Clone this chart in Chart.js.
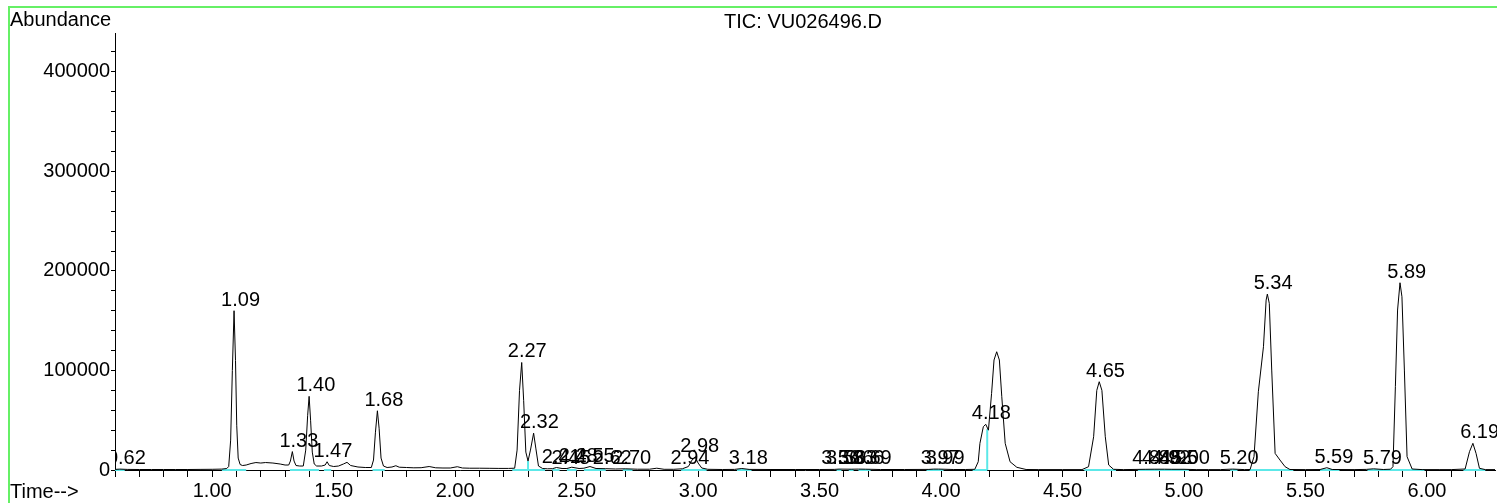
<!DOCTYPE html>
<html>
<head>
<meta charset="utf-8">
<script src="https://cdn.jsdelivr.net/npm/chart.js@4.4.1/dist/chart.umd.min.js"></script>
<style>
  html, body { margin: 0; padding: 0; background: #ffffff; overflow: hidden; }
  canvas { display: block; }
</style>
</head>
<body>
<canvas id="c" width="1497" height="503"></canvas>
<script>
// ---------- DATA ----------
const chartTitle = "TIC: VU026496.D";
const yAxisTitle = "Abundance";
const xAxisTitle = "Time-->";

// retention time (min)
const times = [
  0.60, 0.62, 0.65, 0.70, 0.75, 0.80, 0.85, 0.90, 0.95, 1.00, 1.04,
  1.060, 1.068, 1.076, 1.083, 1.090, 1.096, 1.101, 1.107, 1.115, 1.125,
  1.14, 1.16, 1.18, 1.20, 1.22, 1.25, 1.28, 1.30,
  1.315, 1.322, 1.330, 1.337, 1.345, 1.36, 1.375,
  1.385, 1.393, 1.399, 1.405, 1.412, 1.42, 1.43, 1.45,
  1.465, 1.473, 1.482, 1.50, 1.52, 1.54, 1.555, 1.57, 1.60, 1.63,
  1.655, 1.664, 1.672, 1.680, 1.687, 1.695, 1.705, 1.72, 1.74, 1.756, 1.77,
  1.80, 1.83, 1.86, 1.893, 1.92, 1.95, 1.98, 2.009, 2.03, 2.06, 2.10, 2.14, 2.18, 2.22,
  2.245, 2.255, 2.265, 2.274, 2.282, 2.291, 2.300, 2.310, 2.323, 2.332, 2.343,
  2.36, 2.38, 2.40, 2.417, 2.44, 2.46, 2.48, 2.51, 2.53, 2.555, 2.58, 2.62, 2.66,
  2.70, 2.75, 2.80, 2.83, 2.86, 2.90, 2.935, 2.96, 2.975, 2.988, 3.00, 3.015, 3.04,
  3.10, 3.15, 3.18, 3.21, 3.30, 3.40, 3.50, 3.56, 3.58, 3.63, 3.66, 3.69, 3.75,
  3.85, 3.95, 3.97, 3.99, 4.05, 4.10,
  4.139, 4.153, 4.160, 4.174, 4.184, 4.195, 4.208, 4.218, 4.229, 4.240, 4.250,
  4.264, 4.284, 4.312, 4.35, 4.40, 4.50, 4.58,
  4.607, 4.628, 4.641, 4.651, 4.662, 4.676, 4.690, 4.710,
  4.75, 4.84, 4.88, 4.92, 4.95, 5.00, 5.05, 5.10, 5.15, 5.20, 5.25,
  5.272, 5.288, 5.306, 5.327, 5.338, 5.343, 5.351, 5.361, 5.375, 5.395, 5.416, 5.436,
  5.50, 5.56, 5.588, 5.61, 5.70, 5.75, 5.78, 5.82, 5.85,
  5.860, 5.870, 5.879, 5.889, 5.897, 5.907, 5.918, 5.939,
  5.98, 6.05, 6.10, 6.157, 6.175, 6.189, 6.202, 6.216, 6.24, 6.28
];

// total ion current abundance
const abundance = [
  600, 900, 600, 500, 500, 500, 500, 500, 600, 700, 900,
  1500, 3500, 30000, 100000, 160000, 110000, 45000, 12000, 5500, 4500,
  5000, 6500, 7500, 7000, 7500, 7000, 6000, 5000,
  5000, 9000, 18500, 9000, 4500, 4000, 4000,
  20000, 55000, 74000, 50000, 18000, 6000, 4000, 4000,
  5000, 8300, 4500, 3500, 4000, 6000, 7700, 4500, 3000, 2500,
  2500, 10000, 38000, 59500, 42000, 12000, 4000, 2500, 3000, 4300, 2800,
  2500, 2200, 2300, 3500, 2200, 2000, 2000, 3300, 2000, 1800, 1800, 1700, 1600, 1600,
  1800, 20000, 80000, 108000, 70000, 18000, 9000, 20000, 37000, 22000, 4000,
  1500, 1200, 1300, 2500, 1500, 1500, 2800, 1500, 1800, 3500, 1500, 1300, 1000,
  1200, 800, 800, 1800, 700, 700, 1200, 3500, 10000, 13000, 7000, 2000, 700,
  500, 600, 1500, 600, 500, 500, 500, 600, 900, 800, 900, 800, 500,
  500, 600, 900, 900, 500, 500,
  700, 8300, 26800, 43500, 45900, 40000, 77000, 110500, 118800, 110500, 73600,
  26800, 8300, 2700, 500, 400, 400, 400,
  3300, 33400, 80000, 88700, 80000, 33400, 5000, 700,
  400, 700, 800, 800, 700, 700, 400, 400, 400, 900, 400,
  500, 13400, 78600, 123800, 170700, 176700, 167400, 100400, 16700, 10000, 3300, 500,
  400, 500, 2300, 500, 400, 600, 1200, 500, 800,
  3300, 83700, 160700, 188100, 174000, 100400, 13400, 1000,
  400, 400, 400, 1000, 18400, 26800, 16700, 1700, 400, 400
];

// peak annotations
const peakLabels = [
  "0.62", "1.09", "1.33", "1.40", "1.47", "1.68", "2.27", "2.32",
  "2.41", "2.45", "2.48", "2.55", "2.62", "2.70", "2.94", "2.98", "3.18",
  "3.56", "3.58", "3.63", "3.66", "3.69", "3.97", "3.99", "4.18", "4.65",
  "4.84", "4.88", "4.92", "4.95", "5.00", "5.20", "5.34", "5.59", "5.79", "5.89", "6.19"
];
const peakTimes = [
  0.62, 1.09, 1.33, 1.40, 1.47, 1.68, 2.27, 2.32,
  2.41, 2.45, 2.48, 2.55, 2.62, 2.70, 2.94, 2.98, 3.18,
  3.56, 3.58, 3.63, 3.66, 3.69, 3.97, 3.99, 4.18, 4.65,
  4.84, 4.88, 4.92, 4.95, 5.00, 5.20, 5.34, 5.59, 5.79, 5.89, 6.19
];
const peakHeights = [
  900, 160000, 18500, 74000, 8300, 59500, 108000, 37000,
  2500, 1500, 2800, 3500, 1300, 1200, 1200, 13000, 1500,
  1000, 1000, 1000, 1000, 1000, 900, 900, 45900, 88700,
  800, 800, 800, 800, 800, 900, 176700, 2300, 1200, 188100, 26800
];

// integration baselines (cyan)
const intStart = [0.60, 1.04, 1.32, 1.46, 1.66, 2.235, 2.305, 2.40, 2.46, 2.53, 2.69, 2.93, 3.16, 3.57, 3.62, 3.66, 3.94, 4.13, 4.59, 4.81, 5.19, 5.27, 5.56, 5.755, 6.15];
const intEnd   = [0.64, 1.14, 1.44, 1.49, 1.71, 2.305, 2.37, 2.43, 2.50, 2.62, 2.73, 3.035, 3.22, 3.59, 3.64, 3.71, 4.01, 4.19, 4.72, 5.02, 5.22, 5.45, 5.64, 5.99, 6.24];
const splitTimes   = [2.30, 4.19];
const splitHeights = [9000, 41000];

// axes
const xMin = 0.6, xMax = 6.28, xStep = 0.1, xLabelEvery = 0.5;
const yMin = 0, yMax = 439000, yLabelEvery = 100000;
const yTickValues = [0, 20000, 40000, 60000, 80000, 100000, 120000, 140000, 160000, 180000,
  200000, 220000, 240000, 260000, 280000, 300000, 320000, 340000, 360000, 380000, 400000, 420000];

// ---------- BUILD ----------
const FONT = "'Liberation Sans', Arial, sans-serif";
const tic = times.map((t, i) => ({ x: t, y: abundance[i] }));
const cyan = [];
intStart.forEach((s, i) => {
  cyan.push({ x: s, y: 0 }, { x: intEnd[i], y: 0 }, { x: intEnd[i], y: null });
});
splitTimes.forEach((t, i) => {
  cyan.push({ x: t, y: 0 }, { x: t, y: splitHeights[i] }, { x: t, y: null });
});

const decor = {
  id: 'decor',
  afterDatasetsDraw(chart) {
    const { ctx, chartArea, scales } = chart;
    const xs = scales.x, ys = scales.y;
    ctx.save();
    ctx.beginPath();
    ctx.rect(chartArea.left, 0, chart.width - chartArea.left, chart.height);
    ctx.clip();
    ctx.fillStyle = '#000';
    ctx.font = '20px ' + FONT;
    ctx.textAlign = 'center';
    ctx.textBaseline = 'alphabetic';
    peakLabels.forEach((lab, i) => {
      const px = xs.getPixelForValue(peakTimes[i]) + 6.5;
      const py = ys.getPixelForValue(peakHeights[i]) - 5;
      ctx.fillText(lab, px, py);
    });
    ctx.restore();
  },
  afterDraw(chart) {
    const { ctx, chartArea } = chart;
    ctx.save();
    ctx.fillStyle = '#000';
    ctx.font = '20px ' + FONT;
    ctx.textBaseline = 'alphabetic';
    ctx.textAlign = 'left';
    ctx.fillText(yAxisTitle, 10, 26);
    ctx.fillText(xAxisTitle, 10, 498);
    ctx.textAlign = 'center';
    ctx.fillText(chartTitle, (chartArea.left + chartArea.right) / 2 - 2, 28);
    // green frame
    ctx.strokeStyle = '#66f066';
    ctx.lineWidth = 2;
    ctx.beginPath();
    ctx.moveTo(9, chart.height + 5);
    ctx.lineTo(9, 7);
    ctx.lineTo(chart.width + 5, 7);
    ctx.stroke();
    ctx.restore();
  }
};

new Chart(document.getElementById('c'), {
  type: 'line',
  data: {
    datasets: [
      {
        data: tic, borderColor: '#000', borderWidth: 1, pointRadius: 0,
        tension: 0, fill: false, order: 0, clip: false
      },
      {
        data: cyan, borderColor: '#5ce8e8', borderWidth: 2, pointRadius: 0,
        tension: 0, fill: false, spanGaps: false, order: 1, clip: false
      }
    ]
  },
  options: {
    responsive: false,
    animation: false,
    devicePixelRatio: 1,
    layout: { padding: { top: 33, right: 2, left: 0, bottom: 0 } },
    plugins: { legend: { display: false }, tooltip: { enabled: false }, title: { display: false } },
    scales: {
      x: {
        type: 'linear', min: xMin, max: xMax,
        border: { display: true, color: '#000', width: 1 },
        grid: { drawOnChartArea: false, drawTicks: true, tickLength: 7, tickColor: '#000', tickWidth: 1 },
        ticks: {
          stepSize: xStep, includeBounds: false, autoSkip: false, maxRotation: 0, minRotation: 0,
          padding: 2, color: '#000', font: { family: FONT, size: 20 },
          callback: (v) => {
            const r = v / xLabelEvery;
            return Math.abs(r - Math.round(r)) < 1e-6 ? Number(v).toFixed(2) : '';
          }
        },
        afterFit: (s) => { s.height = 33; }
      },
      y: {
        type: 'linear', min: yMin, max: yMax,
        border: { display: true, color: '#000', width: 1 },
        grid: { drawOnChartArea: false, drawTicks: true, tickLength: 4, tickColor: '#000', tickWidth: 1 },
        ticks: {
          autoSkip: false,
          padding: 1, color: '#000', font: { family: FONT, size: 20 },
          callback: (v) => (Math.abs(Math.round(v) % yLabelEvery) === 0 ? String(Math.round(v)) : '')
        },
        afterBuildTicks: (s) => { s.ticks = yTickValues.map(v => ({ value: v })); },
        afterFit: (s) => { s.width = 115; }
      }
    }
  },
  plugins: [decor]
});
</script>
</body>
</html>
